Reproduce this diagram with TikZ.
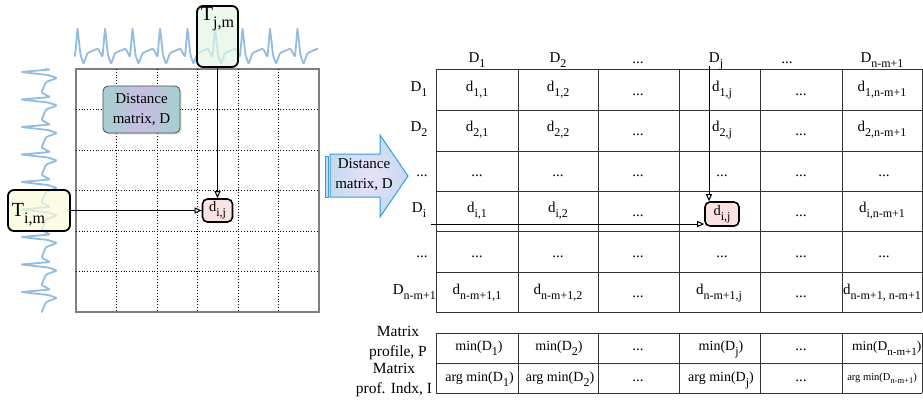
\documentclass[tikz,border=0pt]{standalone}
\usepackage{fontspec}
\setmainfont{Liberation Serif}
\usetikzlibrary{arrows.meta, shadows, calc}
\definecolor{wavblue}{HTML}{92BCE0}
\definecolor{tjgreen}{HTML}{E2F5E2}
\definecolor{tiyellow}{HTML}{FBFBD8}
\definecolor{dijpink}{HTML}{FBE2E2}
\definecolor{arrowblue}{HTML}{3A9AD9}
\definecolor{arrowfill}{HTML}{C6DAEE}
\definecolor{arrowlav}{HTML}{E8E2FA}
\definecolor{dmteal}{HTML}{A4D0D0}
\definecolor{dmlav}{HTML}{C8BEE2}
\definecolor{gridgray}{HTML}{7F7F7F}

\newcommand{\lsub}[1]{\raisebox{-5pt}{\fontsize{12}{12}\selectfont #1}}
\newcommand{\msub}[1]{\raisebox{-4.5pt}{\fontsize{11}{11}\selectfont #1}}
\newcommand{\bsub}[1]{\raisebox{-7pt}{\fontsize{16}{16}\selectfont #1}}
\newcommand{\tsub}[1]{\raisebox{-3pt}{\fontsize{8.5}{9}\selectfont #1}}

\begin{document}
\begin{tikzpicture}[x=1pt, y=-1pt,
  font=\fontsize{15}{20}\selectfont,
  wave/.style={draw=wavblue, line width=1.8pt, line join=round, rounded corners=1pt},
  sigbox/.style={draw, rounded corners=6pt, line width=1.8pt,
                 fill opacity=0.7, text opacity=1},
  dbox/.style={draw, rounded corners=5pt, line width=1.6pt, fill=dijpink,
               inner sep=0pt, font=\fontsize{14.5}{16}\selectfont},
  cellt/.style={anchor=base, inner sep=0pt},
  mint/.style={anchor=base, inner sep=0pt, font=\fontsize{14}{16}\selectfont},
  lbl/.style={align=center, inner sep=0pt, font=\fontsize{15.5}{19.5}\selectfont},
  tline/.style={draw=black!80, line width=0.9pt},
  arr/.style={-{Triangle[open, length=7pt, width=6pt]}, line width=1pt}
]
\useasboundingbox (0,0) rectangle (923,402);

% left: grid of the distance matrix
\draw[gridgray, line width=1.5pt] (76,69) rectangle (319,312);
\foreach \k in {1,...,5} {
  \draw[dotted, line width=0.8pt] ({76+40.5*\k},69) -- ({76+40.5*\k},312);
  \draw[dotted, line width=0.8pt] (76,{69+40.5*\k}) -- (319,{69+40.5*\k});
}

% the two series
\draw[wave] (75,52) \foreach \p in {77.5,105,...,297.5} {
  -- (\p-2.5,57) -- (\p,28) -- (\p+3,55) -- (\p+6,64) -- (\p+10,53) -- (\p+20.5,48.5) };
\draw[wave] (45,69) \foreach \p in {72,99.5,...,292} {
  -- (50,\p-2.5) -- (21,\p) -- (48,\p+3) -- (57,\p+6) -- (46,\p+10) -- (41.5,\p+20.5) };

\node[sigbox, fill=tjgreen, minimum width=41pt, inner sep=2pt,
      text height=12pt, text depth=45pt, font=\fontsize{20}{20}\selectfont]
  (Tjm) at (217.5,36.5) {T\bsub{j,m}};
\node[sigbox, fill=tiyellow, text width=54pt, align=left, inner xsep=4pt,
      inner ysep=2pt, text height=24pt, text depth=13pt,
      font=\fontsize{20}{20}\selectfont]
  (Tim) at (39,210.5) {T\bsub{i,m}};
\node[dbox, minimum width=30pt, minimum height=23pt] (dijL) at (217.5,210.5) {d\lsub{i,j}};

\node[draw=black!70, rounded corners=5pt, line width=0.8pt, minimum width=77pt,
      minimum height=47pt, align=center, inner sep=0pt,
      left color=dmteal, right color=dmteal, middle color=dmlav,
      drop shadow={opacity=0.25, shadow xshift=1.5pt, shadow yshift=-1.5pt}]
  (dmL) at (141.5,109.5) {Distance\\matrix, D};

\draw[arr] (Tjm) -- (dijL);
\draw[arr] (Tim) -- (dijL);

% middle: big arrow
\draw[arrowblue, line width=0.8pt, fill=arrowfill] (325.5,156) rectangle (328.5,197);
\shadedraw[draw=arrowblue, line width=1pt, inner color=arrowlav, outer color=arrowfill]
  (330,154) -- (380,154) -- (380,135) -- (408,176) -- (380,217) -- (380,197)
  -- (330,197) -- cycle;
\node[align=center, inner sep=0pt] (dmarrow) at (364,175) {Distance\\matrix, D};

% right: table
\foreach \xx in {436,518,598,679,760,842,922} {
  \draw[tline] (\xx,69) -- (\xx,312);
  \draw[tline] (\xx,333) -- (\xx,393);
}
\foreach \yy in {69,110,151,191,231,272,312,333,363,393}
  \draw[tline] (436,\yy) -- (922,\yy);

% column heads
\node[cellt] (h1) at (477,62) {D\lsub{1}};
\node[cellt] (h2) at (558,62) {D\lsub{2}};
\node[cellt] (h3) at (638,63) {...};
\node[cellt] (h4) at (716,62) {D\lsub{j}};
\node[cellt] (h5) at (787,63) {...};
\node[cellt] (h6) at (882,62) {D\lsub{n-m+1}};

% row heads
\node[cellt] (r1) at (419,91) {D\lsub{1}};
\node[cellt] (r2) at (419,131.5) {D\lsub{2}};
\node[cellt] (r3) at (422,176) {...};
\node[cellt] (r4) at (419,212.5) {D\lsub{i}};
\node[cellt] (r5) at (422,257) {...};
\node[cellt, anchor=base east] (r6) at (436,294) {D\lsub{n-m+1}};

% cells
\node[cellt] (c11) at (477,91) {d\lsub{1,1}};
\node[cellt] (c12) at (558,91) {d\lsub{1,2}};
\node[cellt] (c13) at (638,95) {...};
\node[cellt, anchor=base west] (c14) at (712,91) {d\lsub{1,j}};
\node[cellt] (c15) at (801,95) {...};
\node[cellt] (c16) at (882,91) {d\lsub{1,n-m+1}};

\node[cellt] (c21) at (477,131.5) {d\lsub{2,1}};
\node[cellt] (c22) at (558,131.5) {d\lsub{2,2}};
\node[cellt] (c23) at (638,135.5) {...};
\node[cellt, anchor=base west] (c24) at (712,131.5) {d\lsub{2,j}};
\node[cellt] (c25) at (801,135.5) {...};
\node[cellt] (c26) at (882,131.5) {d\lsub{2,n-m+1}};

\node[cellt] (c31) at (477,176) {...};
\node[cellt] (c32) at (558,176) {...};
\node[cellt] (c33) at (638,176) {...};
\node[cellt] (c34) at (722,176) {...};
\node[cellt] (c35) at (801,176) {...};
\node[cellt] (c36) at (884,176) {...};

\node[cellt] (c41) at (477,212.5) {d\lsub{i,1}};
\node[cellt] (c42) at (558,212.5) {d\lsub{i,2}};
\node[cellt] (c43) at (638,216) {...};
\node[dbox, minimum width=34pt, minimum height=24pt] (dijR) at (722,214) {d\lsub{i,j}};
\node[cellt] (c45) at (801,216) {...};
\node[cellt] (c46) at (882,212.5) {d\lsub{i,n-m+1}};

\node[cellt] (c51) at (477,257) {...};
\node[cellt] (c52) at (558,257) {...};
\node[cellt] (c53) at (638,257) {...};
\node[cellt] (c54) at (722,257) {...};
\node[cellt] (c55) at (801,257) {...};
\node[cellt] (c56) at (884,257) {...};

\node[cellt] (c61) at (477,294) {d\lsub{n-m+1,1}};
\node[cellt] (c62) at (558,294) {d\lsub{n-m+1,2}};
\node[cellt] (c63) at (638,297) {...};
\node[cellt] (c64) at (719,294) {d\lsub{n-m+1,j}};
\node[cellt] (c65) at (801,297) {...};
\node[cellt] (c66) at (882,294) {d\lsub{n-m+1, n-m+1}};

% profile and index
\node[lbl] (mpP) at (398,343) {Matrix\\profile, P};
\node[lbl] (mpI) at (394,380) {Matrix\\prof. Indx, I};

\node[mint] (p1) at (479,350.5) {min(D\lsub{1})};
\node[mint] (p2) at (559,350.5) {min(D\lsub{2})};
\node[cellt] (p3) at (638,350) {...};
\node[mint] (p4) at (721,350.5) {min(D\lsub{j})};
\node[cellt] (p5) at (801,350) {...};
\node[mint, anchor=base east, font=\fontsize{13.5}{15}\selectfont] (p6) at (921.5,350.5) {min(D\msub{n-m+1})};

\node[mint] (i1) at (479.5,381) {arg min(D\lsub{1})};
\node[mint] (i2) at (560,381) {arg min(D\lsub{2})};
\node[cellt] (i3) at (638,381) {...};
\node[mint] (i4) at (721,381) {arg min(D\lsub{j})};
\node[cellt] (i5) at (801,381) {...};
\node[mint, font=\fontsize{10.5}{12}\selectfont] (i6) at (882,380) {arg min(D\tsub{n-m+1})};

% pointers to d_ij
\coordinate (colstart) at (709,66);
\coordinate (rowstart) at (431,224);
\draw[arr] (colstart) -- (colstart |- dijR.north);
\draw[arr] (rowstart) -- (rowstart -| dijR.west);

\end{tikzpicture}
\end{document}
